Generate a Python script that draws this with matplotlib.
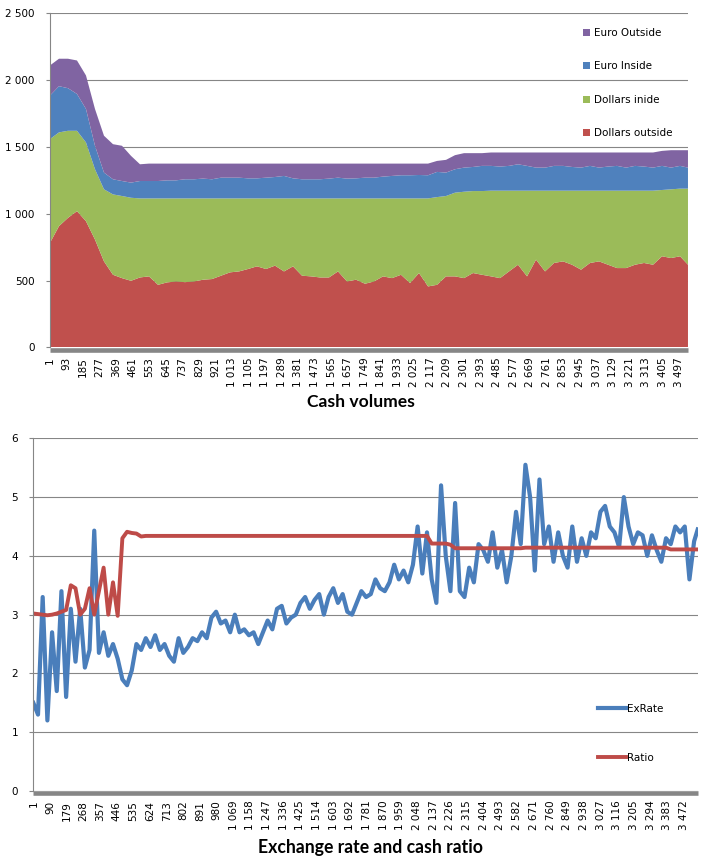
import numpy as np
import matplotlib
matplotlib.use("Agg")
import matplotlib.pyplot as plt
from matplotlib.transforms import offset_copy

# ---- data ----
# top chart: category index, sampled every 50 rows
idx_top = np.append(np.arange(1, 3502, 50), 3545)

dollars_outside = [781, 906, 968, 1018, 943, 806, 643, 543, 518, 498,
                   523, 531, 468, 486, 493, 488, 493, 506, 511, 536,
                   561, 568, 586, 606, 586, 611, 568, 606, 536, 531,
                   523, 523, 568, 493, 506, 476, 493, 531, 518, 543,
                   481, 556, 456, 468, 531, 531, 518, 556, 543, 531,
                   518, 568, 618, 531, 656, 568, 631, 643, 618, 581,
                   631, 643, 618, 593, 593, 618, 631, 618, 681, 668,
                   681, 618]
dollars_inide = [775, 700, 650, 600, 588, 525, 538, 600, 613, 620,
                 590, 582, 645, 627, 620, 625, 620, 607, 602, 577,
                 552, 545, 527, 507, 527, 502, 545, 507, 577, 582,
                 590, 590, 545, 620, 607, 637, 620, 582, 595, 570,
                 632, 557, 657, 655, 600, 625, 645, 612, 625, 640,
                 653, 603, 553, 640, 515, 603, 540, 528, 553, 590,
                 540, 528, 553, 578, 578, 553, 540, 553, 495, 513,
                 505, 568]
euro_inside = [325, 345, 318, 275, 250, 175, 125, 113, 112, 113,
               130, 130, 130, 135, 135, 143, 143, 148, 143, 155,
               155, 155, 150, 150, 155, 160, 168, 150, 143, 143,
               143, 148, 155, 148, 150, 155, 155, 163, 168, 173,
               173, 175, 173, 188, 175, 175, 180, 180, 188, 185,
               180, 185, 197, 185, 172, 172, 185, 185, 177, 172,
               185, 172, 180, 185, 172, 185, 180, 172, 180, 162,
               170, 157]
euro_outside = [225, 205, 220, 250, 250, 275, 275, 262, 263, 200,
                125, 130, 130, 125, 125, 117, 117, 112, 117, 105,
                105, 105, 110, 110, 105, 100, 92, 110, 117, 117,
                117, 112, 105, 112, 110, 105, 105, 97, 92, 87,
                87, 85, 87, 82, 95, 105, 108, 103, 95, 100,
                105, 100, 88, 100, 113, 113, 100, 100, 108, 113,
                100, 113, 105, 100, 113, 100, 105, 113, 112, 130,
                117, 130]

# bottom chart: category index, sampled every 25 rows
idx_bot = np.append(np.arange(1, 3527, 25), 3545)

ex_rate = [1.5, 1.3, 3.3, 1.2, 2.7, 1.7, 3.4, 1.6, 3.1, 2.2,
           3.1, 2.1, 2.4, 4.43, 2.35, 2.7, 2.3, 2.5, 2.25, 1.9,
           1.8, 2.05, 2.5, 2.4, 2.6, 2.45, 2.65, 2.4, 2.5, 2.3,
           2.2, 2.6, 2.35, 2.45, 2.6, 2.55, 2.7, 2.6, 2.95, 3.05,
           2.85, 2.9, 2.7, 3.0, 2.7, 2.75, 2.65, 2.7, 2.5, 2.7,
           2.9, 2.75, 3.1, 3.15, 2.85, 2.95, 3.0, 3.2, 3.3, 3.1,
           3.25, 3.35, 3.0, 3.3, 3.45, 3.2, 3.35, 3.05, 3.0, 3.2,
           3.4, 3.3, 3.35, 3.6, 3.45, 3.4, 3.55, 3.85, 3.6, 3.75,
           3.55, 3.85, 4.5, 3.7, 4.4, 3.6, 3.2, 5.2, 4.0, 3.4,
           4.9, 3.4, 3.3, 3.8, 3.55, 4.2, 4.1, 3.9, 4.4, 3.8,
           4.1, 3.55, 4.0, 4.75, 4.2, 5.55, 5.0, 3.75, 5.3, 4.2,
           4.5, 3.9, 4.4, 4.0, 3.8, 4.5, 3.9, 4.3, 4.0, 4.4,
           4.3, 4.75, 4.85, 4.5, 4.4, 4.15, 5.0, 4.5, 4.2, 4.4,
           4.35, 4.0, 4.35, 4.1, 3.9, 4.3, 4.2, 4.5, 4.4, 4.5,
           3.6, 4.25, 4.45]
ratio = [3.02, 3.01, 3.0, 2.99, 3.0, 3.02, 3.05, 3.08, 3.5, 3.45,
         3.0, 3.1, 3.45, 3.0, 3.4, 3.8, 3.0, 3.55, 2.98, 4.3,
         4.41, 4.39, 4.38, 4.33, 4.34, 4.34, 4.34, 4.34, 4.34, 4.34,
         4.34, 4.34, 4.34, 4.34, 4.34, 4.34, 4.34, 4.34, 4.34, 4.34,
         4.34, 4.34, 4.34, 4.34, 4.34, 4.34, 4.34, 4.34, 4.34, 4.34,
         4.34, 4.34, 4.34, 4.34, 4.34, 4.34, 4.34, 4.34, 4.34, 4.34,
         4.34, 4.34, 4.34, 4.34, 4.34, 4.34, 4.34, 4.34, 4.34, 4.34,
         4.34, 4.34, 4.34, 4.34, 4.34, 4.34, 4.34, 4.34, 4.34, 4.34,
         4.34, 4.34, 4.34, 4.34, 4.34, 4.21, 4.21, 4.21, 4.21, 4.19,
         4.13, 4.13, 4.13, 4.13, 4.13, 4.13, 4.13, 4.13, 4.13, 4.13,
         4.13, 4.13, 4.13, 4.13, 4.13, 4.14, 4.14, 4.14, 4.14, 4.14,
         4.14, 4.14, 4.14, 4.14, 4.14, 4.14, 4.14, 4.14, 4.14, 4.14,
         4.14, 4.14, 4.14, 4.14, 4.14, 4.14, 4.14, 4.14, 4.14, 4.14,
         4.14, 4.14, 4.14, 4.14, 4.14, 4.14, 4.11, 4.11, 4.11, 4.11,
         4.11, 4.11, 4.11]

top_ticks = np.arange(1, 3545, 92)
bot_ticks = np.arange(1, 3545, 89)

GRID = '#868686'


def fmt(v):
    return f"{int(v):,}".replace(",", " ")


def style_axis(ax):
    ax.spines['top'].set_visible(False)
    ax.spines['right'].set_visible(False)
    ax.spines['bottom'].set_visible(False)
    ax.spines['left'].set_color(GRID)
    ax.spines['left'].set_linewidth(0.8)
    # thick grey category axis band, just under zero
    band = offset_copy(ax.transAxes, fig=ax.figure, x=0, y=-2.3, units='dots')
    ax.plot([0, 1], [0, 0], transform=band, color=GRID, lw=3.3,
            solid_capstyle='butt', clip_on=False, zorder=5)
    ax.yaxis.grid(True, color=GRID, linewidth=0.8)
    ax.set_axisbelow(True)
    ax.tick_params(axis='y', length=3, color=GRID, labelsize=7.5, pad=8)
    ax.tick_params(axis='x', length=0, labelsize=7.5, pad=7)


fig = plt.figure(figsize=(7.15, 8.61), dpi=100)

# ---- Cash volumes ----
ax1 = fig.add_axes([0.0699, 0.5964, 0.8923, 0.3889])
ax1.stackplot(idx_top, dollars_outside, dollars_inide, euro_inside, euro_outside,
              colors=['#C0504D', '#9BBB59', '#4F81BD', '#8064A2'],
              labels=['Dollars outside', 'Dollars inide', 'Euro Inside', 'Euro Outside'],
              linewidth=0)
ax1.set_xlim(1, 3545)
ax1.set_ylim(0, 2500)
style_axis(ax1)
yt = np.arange(0, 2501, 500)
ax1.set_yticks(yt)
ax1.set_yticklabels([fmt(v) for v in yt])
ax1.set_xticks(top_ticks)
ax1.set_xticklabels([fmt(v) for v in top_ticks], rotation=90)
h, l = ax1.get_legend_handles_labels()
ax1.legend(h[::-1], l[::-1], loc='upper left', bbox_to_anchor=(583 / 715, 1 - 28 / 861),
           bbox_transform=fig.transFigure, frameon=False, fontsize=7.5,
           handlelength=0.7, handleheight=0.7, handletextpad=0.4,
           labelspacing=2.25, borderpad=0, borderaxespad=0)
fig.text(361 / 715, 1 - 402 / 861, 'Cash volumes', ha='center', va='center',
         fontsize=12.6, fontweight='bold', family='Lato')

# ---- Exchange rate and cash ratio ----
ax2 = fig.add_axes([0.0466, 0.0813, 0.9292, 0.4096])
ax2.plot(idx_bot, ex_rate, color='#4A7EBB', lw=3.0, label='ExRate')
ax2.plot(idx_bot, ratio, color='#BE4B48', lw=2.8, label='Ratio')
ax2.set_xlim(1, 3545)
ax2.set_ylim(0, 6)
style_axis(ax2)
ax2.set_yticks(range(0, 7))
ax2.set_xticks(bot_ticks)
ax2.set_xticklabels([fmt(v) for v in bot_ticks], rotation=90)
ax2.legend(loc='upper left', bbox_to_anchor=(598 / 715, 1 - 704 / 861),
           bbox_transform=fig.transFigure, frameon=False, fontsize=7.5,
           handlelength=2.7, handletextpad=0.1, labelspacing=3.75,
           borderpad=0, borderaxespad=0)
fig.text(370 / 715, 1 - 847 / 861, 'Exchange rate and cash ratio', ha='center', va='center',
         fontsize=12.7, fontweight='bold', family='Lato')

fig.savefig('out.png', dpi=100)
